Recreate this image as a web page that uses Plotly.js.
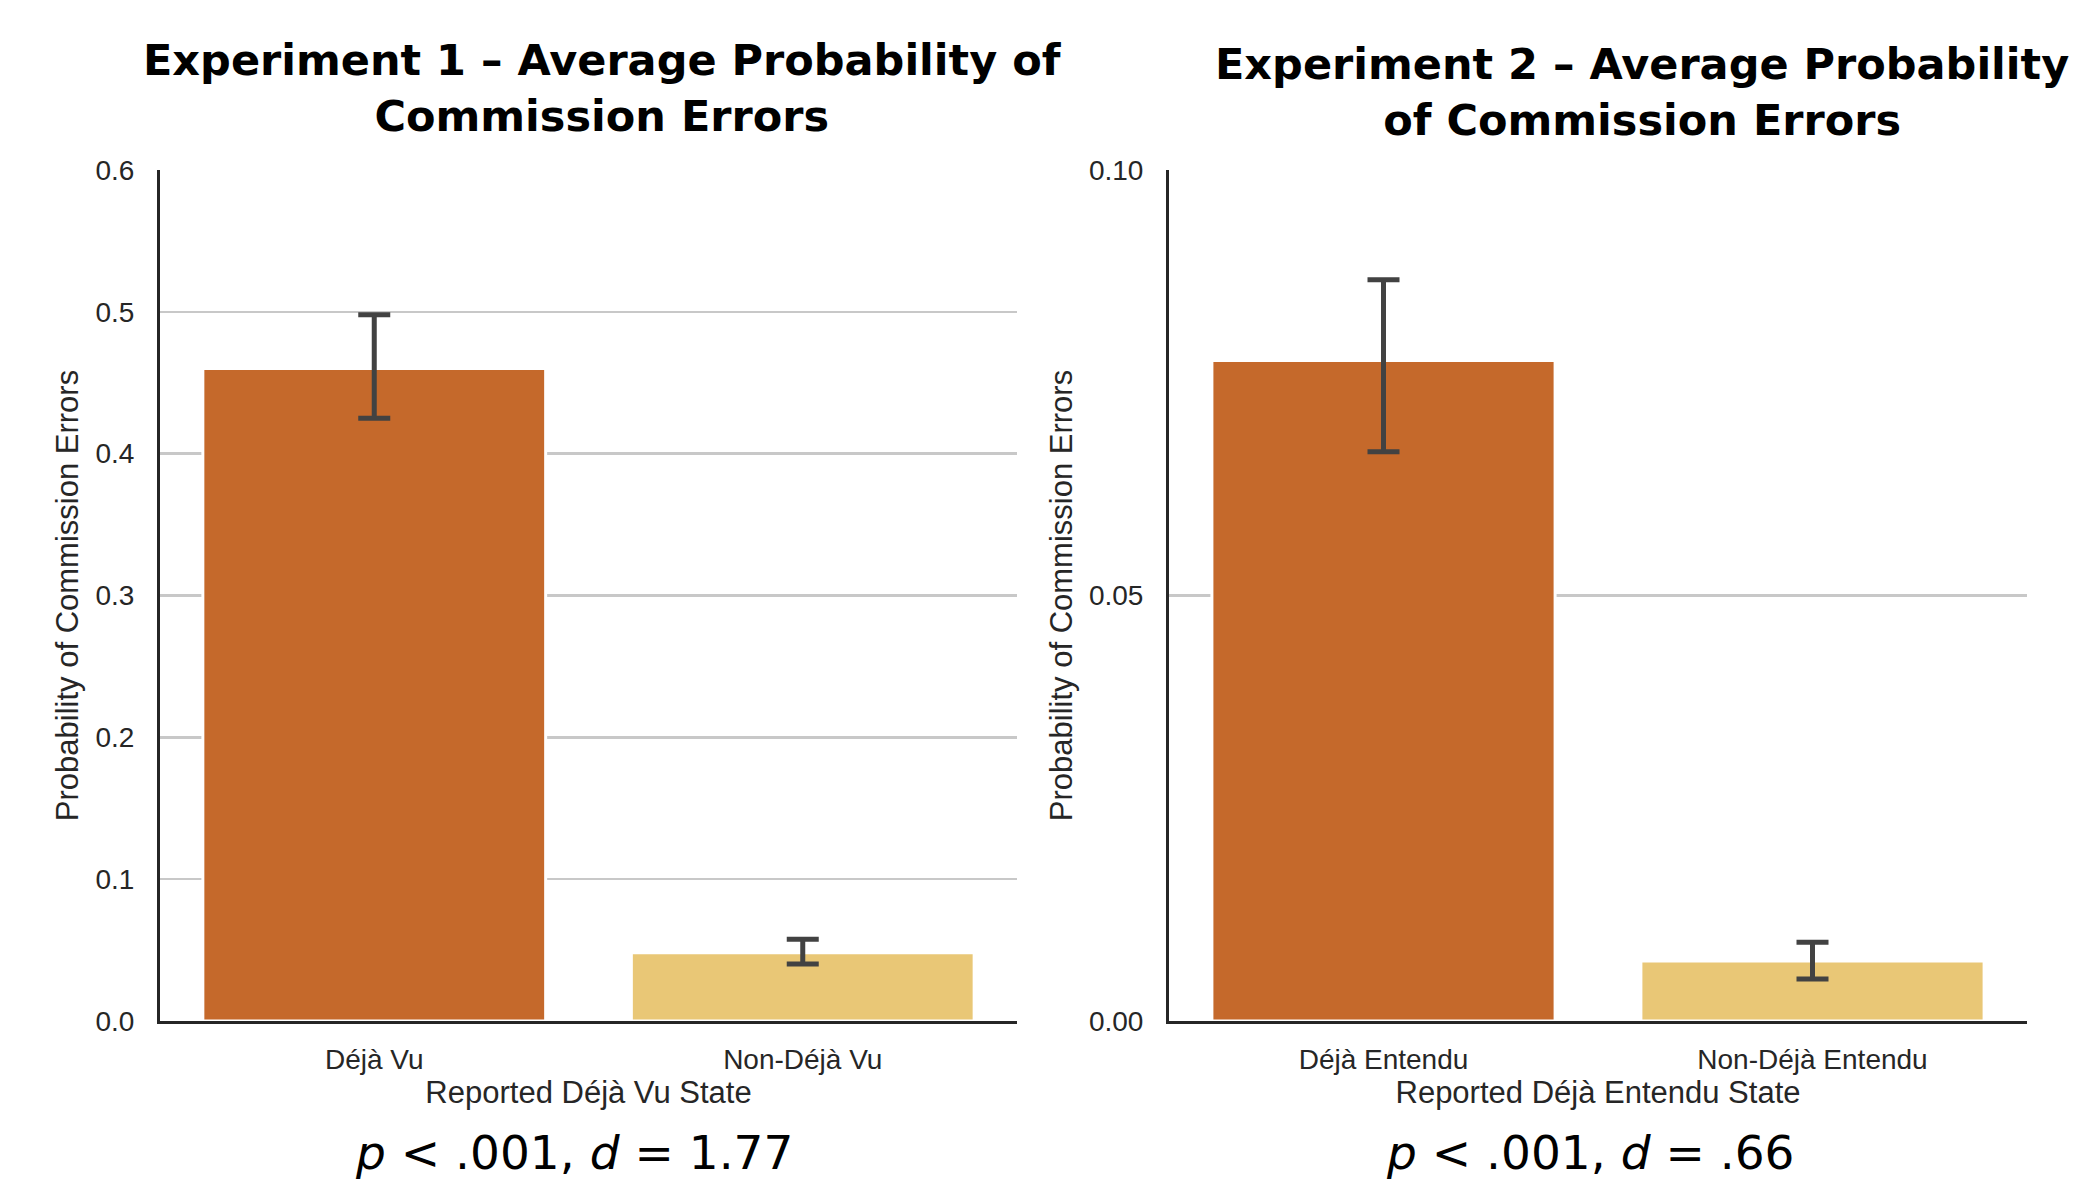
<!DOCTYPE html>
<html>
<head>
<meta charset="utf-8">
<script src="https://cdn.plot.ly/plotly-3.0.1.min.js"></script>
<style>html,body{margin:0;padding:0;background:#fff;}#chart{width:2080px;height:1185px;}</style>
</head>
<body>
<div id="chart"></div>
<script>
// Experiment 1
const categories1 = ['Déjà Vu', 'Non-Déjà Vu'];
const means1 = [0.460, 0.0482];
const ciLow1 = [0.425, 0.0402];
const ciHigh1 = [0.498, 0.0576];
// Experiment 2
const categories2 = ['Déjà Entendu', 'Non-Déjà Entendu'];
const means2 = [0.0776, 0.00705];
const ciLow2 = [0.0669, 0.00494];
const ciHigh2 = [0.0871, 0.00925];

const barColors = ['#C5692B', '#E9C776'];
const titles = ['Experiment 1 – Average Probability of<br>Commission Errors',
                'Experiment 2 – Average Probability<br>of Commission Errors'];
const xTitles = ['Reported Déjà Vu State', 'Reported Déjà Entendu State'];
const yTitle = 'Probability of Commission Errors';
const stats = ['<i>p</i> &lt; .001, <i>d</i> = 1.77', '<i>p</i> &lt; .001, <i>d</i> = .66'];

function barTrace(cats, means, lo, hi, xa, ya) {
  return {
    type: 'bar', x: cats, y: means, xaxis: xa, yaxis: ya, width: 0.8,
    marker: {color: barColors, line: {color: '#ffffff', width: 3}},
    error_y: {type: 'data', symmetric: false,
      array: hi.map((h, i) => h - means[i]),
      arrayminus: lo.map((l, i) => means[i] - l),
      color: '#424242', thickness: 5, width: 16},
    hoverinfo: 'skip'
  };
}

const data = [
  barTrace(categories1, means1, ciLow1, ciHigh1, 'x', 'y'),
  barTrace(categories2, means2, ciLow2, ciHigh2, 'x2', 'y2')
];

const tickFont = {family: 'Liberation Sans, Arial, sans-serif', size: 28, color: '#262626'};
const titleFont = {family: 'Liberation Sans, Arial, sans-serif', size: 31, color: '#262626'};
const W = 2080, H = 1185;
const yDom = [164 / H, 1015 / H];

function xAxis(domain, title, anchor) {
  return {domain: domain, anchor: anchor, type: 'category', range: [-0.5, 1.5],
    showline: true, linecolor: '#262626', linewidth: 3, showgrid: false, zeroline: false,
    ticks: '', tickfont: tickFont, ticklabelstandoff: 11,
    title: {text: title, font: titleFont, standoff: 8}, fixedrange: true};
}
function yAxis(range, dtick, fmt, anchor) {
  return {domain: yDom, anchor: anchor, range: range, dtick: dtick, tick0: 0, tickformat: fmt,
    showline: true, linecolor: '#262626', linewidth: 3, showgrid: true,
    gridcolor: '#c8c8c8', gridwidth: 2.5, zeroline: false, ticks: '',
    tickfont: tickFont, ticklabelstandoff: 17,
    title: {text: yTitle, font: titleFont, standoff: 8}, fixedrange: true};
}

const layout = {
  width: W, height: H, margin: {l: 0, r: 0, t: 0, b: 0},
  paper_bgcolor: '#ffffff', plot_bgcolor: '#ffffff', showlegend: false,
  xaxis: xAxis([160 / W, 1017 / W], xTitles[0], 'y'),
  yaxis: yAxis([0, 0.6], 0.1, '.1f', 'x'),
  xaxis2: xAxis([1169 / W, 2027 / W], xTitles[1], 'y2'),
  yaxis2: yAxis([0, 0.1], 0.05, '.2f', 'x2'),
  annotations: [
    {text: '<b>' + titles[0] + '</b>', xref: 'paper', yref: 'paper', x: 602 / W, y: 1 - 33 / H,
     xanchor: 'center', yanchor: 'top', showarrow: false,
     font: {family: 'DejaVu Sans, sans-serif', size: 43, color: '#000000'}},
    {text: '<b>' + titles[1] + '</b>', xref: 'paper', yref: 'paper', x: 1642 / W, y: 1 - 37 / H,
     xanchor: 'center', yanchor: 'top', showarrow: false,
     font: {family: 'DejaVu Sans, sans-serif', size: 43, color: '#000000'}},
    {text: stats[0], xref: 'paper', yref: 'paper', x: 574 / W, y: (H - 1152) / H,
     xanchor: 'center', yanchor: 'middle', showarrow: false,
     font: {family: 'DejaVu Sans, sans-serif', size: 47, color: '#000000'}},
    {text: stats[1], xref: 'paper', yref: 'paper', x: 1590 / W, y: (H - 1152) / H,
     xanchor: 'center', yanchor: 'middle', showarrow: false,
     font: {family: 'DejaVu Sans, sans-serif', size: 47, color: '#000000'}}
  ]
};

Plotly.newPlot('chart', data, layout, {displayModeBar: false, staticPlot: true});
</script>
</body>
</html>
